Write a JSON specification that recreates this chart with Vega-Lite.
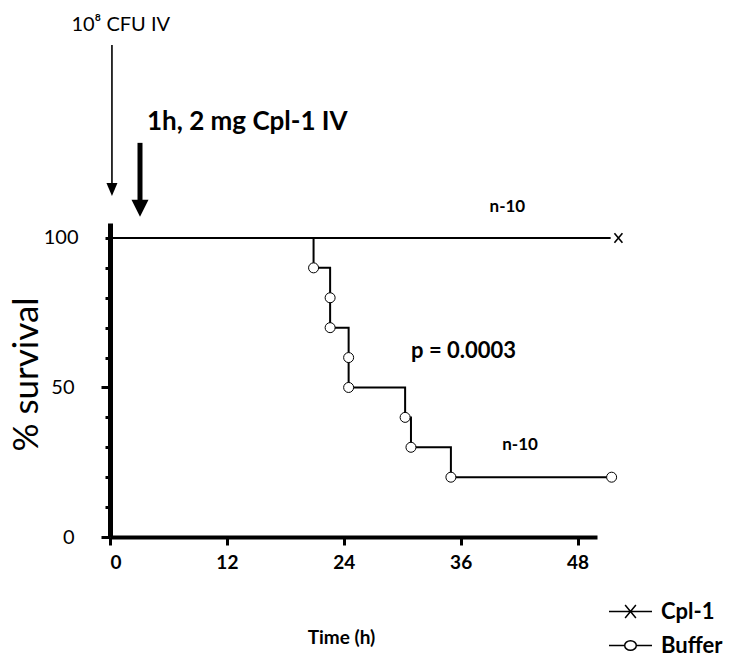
{
  "$schema": "https://vega.github.io/schema/vega-lite/v6.json",
  "width": 487,
  "height": 314,
  "autosize": {"type": "none"},
  "padding": {"left": 110, "top": 223, "right": 135, "bottom": 125},
  "background": "white",
  "config": {"view": {"stroke": null}, "font": "Lato", "text": {"font": "Lato", "color": "black"}},
  "datasets": {
    "cpl": [
      {"t": 0.3, "s": 100, "group": "Cpl-1"},
      {"t": 51.4, "s": 100, "group": "Cpl-1"}
    ],
    "cplEnd": [
      {"t": 52.2, "s": 100, "group": "Cpl-1"}
    ],
    "buffer": [
      {"t": 0.3, "s": 100, "group": "Buffer"},
      {"t": 20.9, "s": 90, "group": "Buffer"},
      {"t": 22.6, "s": 80, "group": "Buffer"},
      {"t": 22.6, "s": 70, "group": "Buffer"},
      {"t": 24.5, "s": 60, "group": "Buffer"},
      {"t": 24.5, "s": 50, "group": "Buffer"},
      {"t": 30.3, "s": 40, "group": "Buffer"},
      {"t": 30.9, "s": 30, "group": "Buffer"},
      {"t": 35.0, "s": 20, "group": "Buffer"},
      {"t": 51.5, "s": 20, "group": "Buffer"}
    ],
    "notesN": [
      {"t": 40.8, "s": 110.4, "label": "n-10"},
      {"t": 42.1, "s": 30.7, "label": "n-10"}
    ],
    "notesP": [
      {"t": 36.3, "s": 62.3, "label": "p = 0.0003"}
    ],
    "noteInoc": [
      {"t": 1.1, "s": 171.2, "label": "10⁸ CFU IV"}
    ],
    "noteDose": [
      {"t": 3.8, "s": 138.8, "label": "1h, 2 mg Cpl-1 IV"}
    ],
    "thinShaft": [
      {"t": 0.2, "s": 164.5, "s2": 118.4}
    ],
    "thinHead": [
      {"t": 0.2, "s": 116.2}
    ],
    "thickShaft": [
      {"t": 3.08, "s": 131.8, "s2": 112.7}
    ],
    "thickHead": [
      {"t": 3.08, "s": 109.9}
    ]
  },
  "encoding": {
    "x": {
      "field": "t", "type": "quantitative",
      "scale": {"domain": [0, 50], "nice": false},
      "axis": {
        "values": [0, 12, 24, 36, 48],
        "grid": false,
        "ticks": true,
        "domainColor": "black", "domainWidth": 4,
        "tickColor": "black", "tickWidth": 3, "tickSize": 8,
        "labelFont": "Lato", "labelFontSize": 19, "labelFontWeight": "bold", "labelColor": "black",
        "labelPadding": 8,
        "labelOverlap": false,
        "title": "Time (h)",
        "titleFont": "Lato", "titleFontSize": 19, "titleFontWeight": "bold", "titleColor": "black",
        "titleX": 231, "titleY": 100, "titleBaseline": "middle", "titleAlign": "center"
      }
    },
    "y": {
      "field": "s", "type": "quantitative",
      "scale": {"domain": [0, 105], "nice": false},
      "axis": {
        "values": [0, 10, 20, 30, 40, 50, 60, 70, 80, 90, 100],
        "labelExpr": "datum.value % 50 === 0 ? datum.label : ''",
        "labelOverlap": false,
        "grid": false,
        "ticks": true,
        "domainColor": "black", "domainWidth": 5,
        "tickColor": "black", "tickWidth": 3,
        "tickSize": {"condition": {"test": "datum.value === 0 || datum.value === 50", "value": 9}, "value": 5},
        "labelFont": "Lato", "labelFontSize": 20, "labelColor": "black",
        "labelPadding": 27,
        "title": "% survival",
        "titleFont": "Lato", "titleFontSize": 35, "titleFontWeight": "normal", "titleColor": "black",
        "titleX": -84, "titleY": 151, "titleAngle": -90, "titleBaseline": "middle", "titleAlign": "center"
      }
    }
  },
  "layer": [
    {
      "data": {"name": "cpl"},
      "mark": {"type": "line", "strokeWidth": 2},
      "encoding": {
        "stroke": {
          "field": "group", "type": "nominal",
          "scale": {"domain": ["Cpl-1", "Buffer"], "range": ["black", "black"]},
          "legend": {
            "orient": "none",
            "legendX": 498,
            "legendY": 366,
            "title": null,
            "symbolSize": 1849,
            "symbolStrokeWidth": 1.5,
            "labelFont": "Lato",
            "labelFontSize": 22,
            "labelFontWeight": "bold",
            "labelColor": "black",
            "labelOffset": 8,
            "rowPadding": -5,
            "encode": {
              "symbols": {
                "update": {
                  "shape": {"signal": "datum.value === 'Cpl-1' ? 'M-1,0H1M-0.25,-0.3L0.25,0.3M-0.25,0.3L0.25,-0.3' : 'M-1,0H-0.27M0.27,0H1M-0.27,0A0.27,0.22 0 1,0 0.27,0A0.27,0.22 0 1,0 -0.27,0Z'"},
                  "fill": {"value": "white"},
                  "stroke": {"value": "black"},
                  "strokeWidth": {"value": 1.5}
                }
              }
            }
          }
        }
      }
    },
    {
      "data": {"name": "buffer"},
      "mark": {"type": "line", "strokeWidth": 2, "interpolate": "step-after"},
      "encoding": {
        "stroke": {"field": "group", "type": "nominal"}
      }
    },
    {
      "data": {"name": "buffer"},
      "transform": [{"filter": "datum.s < 100"}],
      "mark": {"type": "point", "shape": "circle", "size": 100, "filled": true, "fill": "white", "stroke": "black", "strokeWidth": 1, "opacity": 1},
      "encoding": {}
    },
    {
      "data": {"name": "cplEnd"},
      "mark": {"type": "point", "shape": "M-1,-1.2L1,1.2M-1,1.2L1,-1.2", "size": 64, "filled": false, "stroke": "black", "strokeWidth": 1.6, "opacity": 1},
      "encoding": {}
    },
    {
      "data": {"name": "thinShaft"},
      "mark": {"type": "rule", "strokeWidth": 1.6, "color": "black"},
      "encoding": {
        "y2": {"field": "s2"}
      }
    },
    {
      "data": {"name": "thinHead"},
      "mark": {"type": "point", "shape": "M-1,-1.2L1,-1.2L0,1.2Z", "size": 121, "filled": true, "color": "black", "opacity": 1},
      "encoding": {}
    },
    {
      "data": {"name": "thickShaft"},
      "mark": {"type": "rule", "strokeWidth": 5, "color": "black"},
      "encoding": {
        "y2": {"field": "s2"}
      }
    },
    {
      "data": {"name": "thickHead"},
      "mark": {"type": "point", "shape": "M-1,-1L1,-1L0,1Z", "size": 289, "filled": true, "color": "black", "opacity": 1},
      "encoding": {}
    },
    {
      "data": {"name": "notesN"},
      "mark": {"type": "text", "fontSize": 17, "fontWeight": "bold", "align": "center", "baseline": "middle", "color": "black"},
      "encoding": {
        "text": {"field": "label"}
      }
    },
    {
      "data": {"name": "notesP"},
      "mark": {"type": "text", "fontSize": 22, "fontWeight": "bold", "align": "center", "baseline": "middle", "color": "black"},
      "encoding": {
        "text": {"field": "label"}
      }
    },
    {
      "data": {"name": "noteInoc"},
      "mark": {"type": "text", "fontSize": 20, "fontWeight": "normal", "align": "center", "baseline": "middle", "color": "black"},
      "encoding": {
        "text": {"field": "label"}
      }
    },
    {
      "data": {"name": "noteDose"},
      "mark": {"type": "text", "fontSize": 26, "fontWeight": "bold", "align": "left", "baseline": "middle", "color": "black"},
      "encoding": {
        "text": {"field": "label"}
      }
    }
  ]
}
